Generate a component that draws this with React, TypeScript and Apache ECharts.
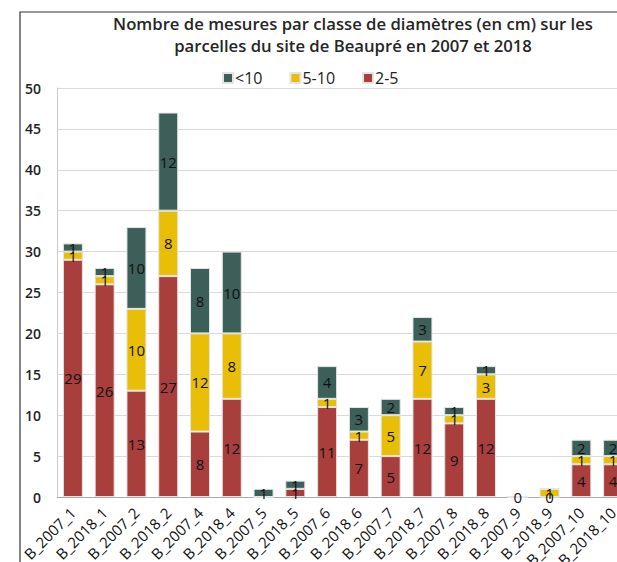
import React, { useEffect, useRef } from "react";
import * as echarts from "echarts";

const categories = [
  "B_2007_1", "B_2018_1", "B_2007_2", "B_2018_2", "B_2007_4", "B_2018_4",
  "B_2007_5", "B_2018_5", "B_2007_6", "B_2018_6", "B_2007_7", "B_2018_7",
  "B_2007_8", "B_2018_8", "B_2007_9", "B_2018_9", "B_2007_10", "B_2018_10",
];
const s2to5 = [29, 26, 13, 27, 8, 12, 0, 1, 11, 7, 5, 12, 9, 12, 0, 0, 4, 4];
const s5to10 = [1, 1, 10, 8, 12, 8, 0, 0, 1, 1, 5, 7, 1, 3, 0, 1, 1, 1];
const sLt10 = [1, 1, 10, 12, 8, 10, 1, 1, 4, 3, 2, 3, 1, 1, 0, 0, 2, 2];
const yTicks = { min: 0, max: 50, interval: 5 };

const FONT = "'Open Sans', 'Noto Sans', sans-serif";

export default function App() {
  const ref = useRef<HTMLDivElement>(null);
  useEffect(() => {
    const chart = echarts.init(ref.current!, null, { renderer: "svg" });
    const zeroShown = [14, 15];
    const label = (allowZero: boolean) => ({
      show: true,
      position: "inside",
      color: "#111",
      fontFamily: FONT,
      fontSize: 15,
      formatter: (p: any) =>
        p.value === 0 ? (allowZero && zeroShown.includes(p.dataIndex) ? "0" : "") : String(p.value),
    });
    const mk = (name: string, data: number[], color: string, allowZero: boolean) => ({
      name,
      type: "bar",
      stack: "total",
      data,
      barWidth: 20,
      itemStyle: { color, borderColor: "#e4e4e4", borderWidth: 1 },
      label: label(allowZero),
    });
    chart.setOption({
      animation: false,
      title: {
        text: "Nombre de mesures par classe de diamètres (en cm) sur les\nparcelles du site de Beaupré en 2007 et 2018",
        left: 348,
        textAlign: "center",
        top: 7,
        textStyle: { fontFamily: FONT, fontSize: 16.7, fontWeight: 600, color: "#262626", lineHeight: 22 },
      },
      legend: {
        data: ["<10", "5-10", "2-5"],
        top: 65,
        left: 217,
        itemWidth: 10,
        itemHeight: 10,
        itemGap: 27,
        icon: "rect",
        textStyle: { fontFamily: FONT, fontSize: 16, color: "#222", padding: [0, 0, 0, -3] },
      },
      graphic: [
        {
          type: "rect",
          shape: { x: 20, y: 12, width: 640, height: 600 },
          style: { fill: "none", stroke: "#333", lineWidth: 1.2 },
          silent: true,
        },
      ],
      grid: { left: 57, right: -12, top: 88, bottom: 65, containLabel: false, outerBoundsMode: "none" },
      xAxis: {
        type: "category",
        data: categories,
        axisLine: { lineStyle: { color: "#aaa" } },
        axisTick: { show: false },
        axisLabel: {
          rotate: 45,
          interval: 0,
          fontFamily: FONT,
          fontSize: 15,
          color: "#111",
          margin: 13,
        },
      },
      yAxis: {
        type: "value",
        min: yTicks.min,
        max: yTicks.max,
        interval: yTicks.interval,
        axisLine: { show: true, lineStyle: { color: "#ccc" } },
        splitLine: { lineStyle: { color: "#dadada" } },
        axisLabel: { fontFamily: FONT, fontSize: 14, color: "#222", margin: 16, fontWeight: 600 },
      },
      series: [
        mk("2-5", s2to5, "#a83f3d", true),
        mk("5-10", s5to10, "#e8be06", false),
        mk("<10", sLt10, "#3c5f5a", false),
      ],
    });
    return () => chart.dispose();
  }, []);
  return (
    <div
      ref={ref}
      style={{ position: "fixed", left: 0, top: 0, width: 617, height: 562, background: "#fff" }}
    />
  );
}
